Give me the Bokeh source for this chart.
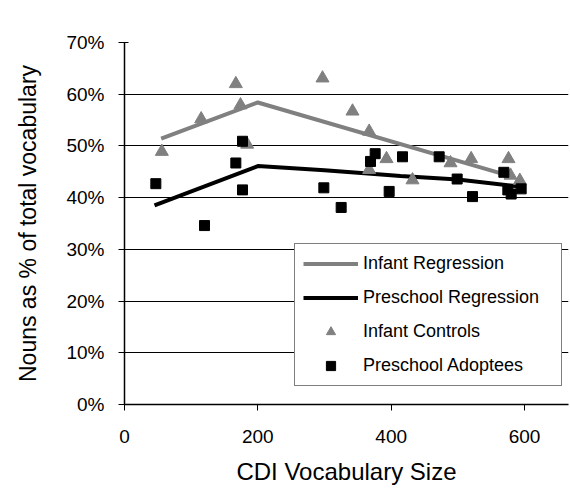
from bokeh.plotting import figure
from bokeh.models import (ColumnDataSource, FixedTicker, PrintfTickFormatter,
                          Legend, LegendItem, Range1d)
from bokeh.embed import file_html
from bokeh.resources import INLINE

# ---- data ----
infant_x = [56, 115, 167, 174, 184, 297, 342, 367, 367, 393, 432, 489, 520, 576, 579, 593]
infant_y = [48.9, 55.2, 62.0, 57.9, 50.3, 63.1, 56.7, 52.8, 45.4, 47.5, 43.4, 46.7, 47.5, 47.5, 44.3, 43.3]

preschool_x = [47, 120, 167, 177, 177, 299, 325, 369, 376, 397, 417, 472, 499, 522, 569, 575, 580, 595]
preschool_y = [42.7, 34.6, 46.7, 50.9, 41.5, 41.9, 38.1, 47.0, 48.5, 41.2, 47.9, 47.9, 43.6, 40.2, 44.9, 41.5, 40.7, 41.7]

infant_reg_x = [55, 200, 575]
infant_reg_y = [51.4, 58.4, 44.3]

preschool_reg_x = [45, 200, 300, 370, 414, 500, 590]
preschool_reg_y = [38.5, 46.1, 45.3, 44.6, 44.2, 43.5, 42.2]

x_ticks = [0, 200, 400, 600]
y_ticks = [0, 10, 20, 30, 40, 50, 60, 70]

FONT = "Liberation Sans"
GRAY = "#808080"

p = figure(width=570, height=495, output_backend="svg", toolbar_location=None,
           x_range=Range1d(0, 666), y_range=Range1d(0, 70),
           min_border_left=124, min_border_right=2, min_border_top=42,
           min_border_bottom=91)
p.outline_line_color = None
p.background_fill_color = "white"
p.border_fill_color = "white"

# grid
p.xgrid.grid_line_color = None
p.ygrid.grid_line_color = "black"
p.ygrid.grid_line_width = 1
p.ygrid.ticker = FixedTicker(ticks=y_ticks)

# axes
p.xaxis.ticker = FixedTicker(ticks=x_ticks)
p.yaxis.ticker = FixedTicker(ticks=y_ticks)
p.yaxis.formatter = PrintfTickFormatter(format="%d%%")
for ax in (p.xaxis[0], p.yaxis[0]):
    ax.axis_line_color = "black"
    ax.axis_line_width = 1.5
    ax.major_tick_line_color = "black"
    ax.minor_tick_line_color = None
    ax.major_label_text_font = FONT
    ax.major_label_text_font_size = "19px"
    ax.major_label_text_color = "black"
    ax.axis_label_text_font = FONT
    ax.axis_label_text_font_style = "normal"
    ax.axis_label_text_color = "black"

p.xaxis.axis_label_text_font_size = "24px"
p.yaxis.axis_label_text_font_size = "23px"

p.xaxis.major_tick_out = 6
p.xaxis.major_tick_in = 0
p.xaxis.major_label_standoff = 19
p.xaxis.axis_label = "CDI Vocabulary Size"
p.xaxis.axis_label_standoff = 12

p.yaxis.major_tick_out = 6
p.yaxis.major_tick_in = 4
p.yaxis.major_label_standoff = 14
p.yaxis.axis_label = "Nouns as % of total vocabulary"
p.yaxis.axis_label_standoff = 22

# regression lines
r_inf_line = p.line(infant_reg_x, infant_reg_y, line_color=GRAY, line_width=4)
r_pre_line = p.line(preschool_reg_x, preschool_reg_y, line_color="black", line_width=4)

# points
src_inf = ColumnDataSource(dict(x=infant_x, y=infant_y))
src_pre = ColumnDataSource(dict(x=preschool_x, y=preschool_y))
r_inf = p.scatter("x", "y", source=src_inf, marker="triangle", size=13,
                  fill_color=GRAY, line_color=GRAY)
r_pre = p.scatter("x", "y", source=src_pre, marker="square", size=10,
                  fill_color="black", line_color="black")

legend = Legend(items=[
    LegendItem(label="Infant Regression", renderers=[r_inf_line]),
    LegendItem(label="Preschool Regression", renderers=[r_pre_line]),
    LegendItem(label="Infant Controls", renderers=[r_inf]),
    LegendItem(label="Preschool Adoptees", renderers=[r_pre]),
], location=(170, 18))
legend.border_line_color = "black"
legend.border_line_width = 1
legend.background_fill_color = "white"
legend.background_fill_alpha = 1
legend.label_text_font = FONT
legend.label_text_font_size = "18px"
legend.label_text_color = "black"
legend.glyph_width = 55
legend.glyph_height = 23
legend.label_height = 23
legend.label_width = 190
legend.label_standoff = 5
legend.spacing = 11
legend.padding = 8
legend.margin = 0
p.add_layout(legend)

open("out.html", "w").write(file_html(p, INLINE))
